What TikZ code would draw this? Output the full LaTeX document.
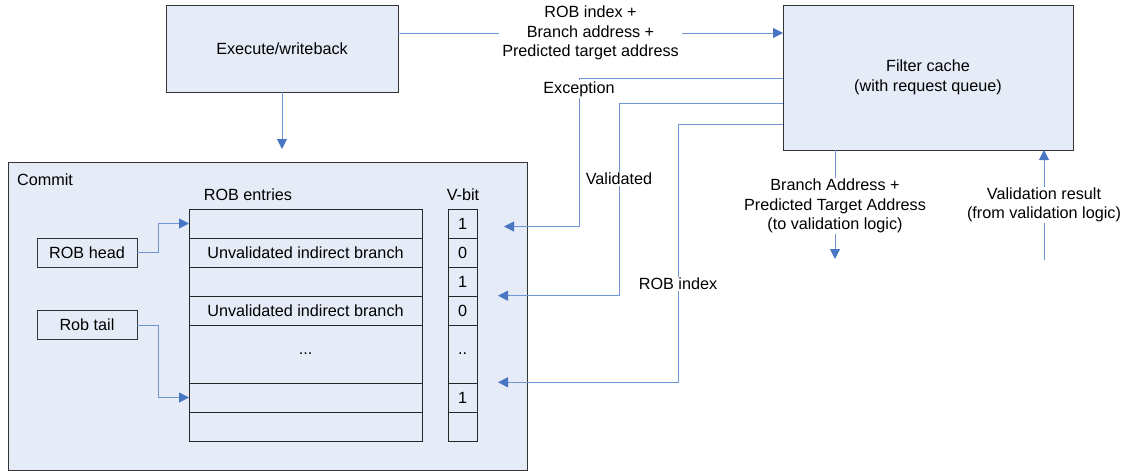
\documentclass[tikz,border=0pt]{standalone}
\usepackage{fontspec}
\setmainfont{Liberation Sans}
\usetikzlibrary{arrows.meta,calc}
\definecolor{boxfill}{HTML}{E6ECF7}
\definecolor{wirec}{HTML}{6F96D4}
\definecolor{tipc}{HTML}{4876C2}
\begin{document}
\begin{tikzpicture}[x=1pt,y=-1pt,
  font=\fontsize{16.2}{19.5}\selectfont,
  box/.style={draw=black!80, fill=boxfill, line width=0.9pt, inner sep=0pt, outer sep=0pt, align=center},
  cell/.style={draw=black!85, fill=boxfill, line width=0.9pt, inner sep=0pt, outer sep=0pt, minimum height=29, align=center},
  robcell/.style={cell, minimum width=233},
  vcell/.style={cell, minimum width=29},
  wire/.style={draw=wirec, line width=1pt},
  arr/.style={wire, -{Triangle[length=10pt,width=10pt,color=tipc]}},
  lbl/.style={align=center, fill=white, inner xsep=2pt, inner ysep=1pt},
  plain/.style={align=center, inner sep=1pt}
]
\useasboundingbox (0,0) rectangle (1127,471);
\fill[white] (0,0) rectangle (1127,471);

% main blocks
\node[box, minimum width=232, minimum height=87] (exec) at (282,48.5) {Execute/writeback};
\node[box, minimum width=290, minimum height=145] (fc) at (928,77.5) {Filter cache\\(with request queue)};
\node[box, minimum width=519, minimum height=308] (commit) at (267.5,316) {};
\node[plain, anchor=west] (committxt) at (16,180) {Commit};

% ROB entries
\node[plain] (robtxt) at (248,195) {ROB entries};
\node[plain] (vbittxt) at (463,195) {V-bit};
\node[robcell] (r1) at (305.5,223.5) {};
\node[robcell] (r2) at (305.5,252.5) {Unvalidated indirect branch};
\node[robcell] (r3) at (305.5,281.5) {};
\node[robcell] (r4) at (305.5,310.5) {Unvalidated indirect branch};
\node[robcell, minimum height=58] (r5) at (305.5,354) {...};
\node[robcell] (r6) at (305.5,397.5) {};
\node[robcell] (r7) at (305.5,426.5) {};
\node[vcell] (v1) at (462.5,223.5) {1};
\node[vcell] (v2) at (462.5,252.5) {0};
\node[vcell] (v3) at (462.5,281.5) {1};
\node[vcell] (v4) at (462.5,310.5) {0};
\node[vcell, minimum height=58] (v5) at (462.5,354) {..};
\node[vcell] (v6) at (462.5,397.5) {1};
\node[vcell] (v7) at (462.5,426.5) {};

% head / tail
\node[box, minimum width=100, minimum height=29] (head) at (87,252.5) {ROB head};
\node[box, minimum width=100, minimum height=29] (tail) at (87,325) {Rob tail};
\draw[arr] (head.east) -- ++(21,0) |- (r1.west);
\draw[arr] (tail.east) -- ++(21,0) |- (r6.west);

% execute -> commit
\coordinate (commitin) at (282,149);
\draw[arr] (exec.south) -- (commitin);

% execute -> filter cache
\coordinate (exout) at ($(exec.north east)+(0,28)$);
\coordinate (fcin) at ($(fc.north west)+(0,28)$);
\draw[arr] (exout) -- node[lbl, inner xsep=3pt] (req) {ROB index +\\Branch address +\\Predicted target address} (fcin);

% filter cache -> commit
\coordinate (excA) at ($(fc.north west)+(0,73)$);
\coordinate (valA) at ($(fc.north west)+(0,98)$);
\coordinate (idxA) at ($(fc.north west)+(0,119)$);
\coordinate (excB) at (504,226.5);
\coordinate (valB) at (498,295.7);
\coordinate (idxB) at (498,382.3);
\draw[arr] (excA) -| ($(excB)+(75,0)$) -- (excB);
\draw[arr] (valA) -| ($(valB)+(121,0)$) -- (valB);
\draw[arr] (idxA) -| ($(idxB)+(180,0)$) -- (idxB);
\node[lbl] (exclbl) at (579,89) {Exception};
\node[lbl] (vallbl) at (619,179) {Validated};
\node[lbl] (idxlbl) at (678,284) {ROB index};

% filter cache <-> validation logic
\coordinate (fcout) at ($(fc.south west)+(52,0)$);
\coordinate (vlogic) at (835,259);
\draw[arr] (fcout) -- (vlogic);
\node[lbl] (outlbl) at (835,206) {Branch Address +\\Predicted Target Address\\(to validation logic)};
\coordinate (vres) at (1044,260);
\coordinate (fcres) at ($(fc.south west)+(261,0)$);
\draw[arr] (vres) -- (fcres);
\node[lbl] (reslbl) at (1044,205) {Validation result\\(from validation logic)};
\end{tikzpicture}
\end{document}
